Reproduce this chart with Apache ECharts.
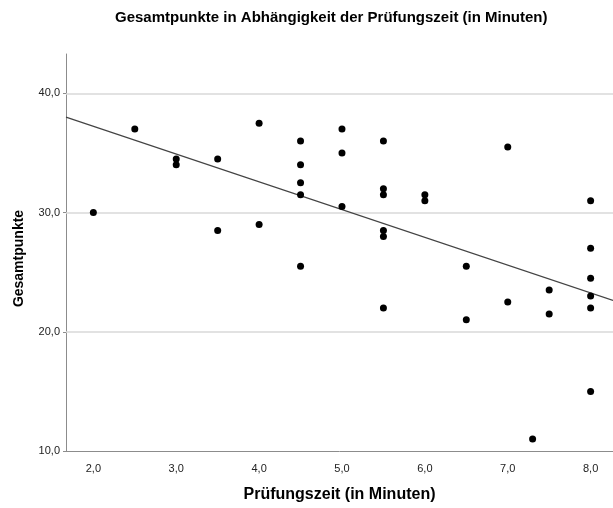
<!DOCTYPE html>
<html>
<head>
<meta charset="utf-8">
<script src="https://cdn.jsdelivr.net/npm/echarts@6/dist/echarts.min.js"></script>
<style>
html,body{margin:0;padding:0;background:#fff;}
#chart{width:613px;height:508px;}
</style>
</head>
<body>
<div id="chart"></div>
<script>
// Data
const pruefungszeit = [2, 2.5, 3, 3, 3.5, 3.5, 4, 4, 4.5, 4.5, 4.5, 4.5, 4.5, 5, 5, 5,
  5.5, 5.5, 5.5, 5.5, 5.5, 5.5, 6, 6, 6.5, 6.5, 7, 7, 7.3, 7.5, 7.5, 8, 8, 8, 8, 8, 8];
const gesamtpunkte = [30, 37, 34.5, 34, 34.5, 28.5, 37.5, 29, 36, 34, 32.5, 31.5, 25.5, 37, 35, 30.5,
  36, 32, 31.5, 28.5, 28, 22, 31.5, 31, 25.5, 21, 35.5, 22.5, 11, 23.5, 21.5, 31, 27, 24.5, 23, 22, 15];
const xTicks = [2, 3, 4, 5, 6, 7, 8];
const yTicks = [10, 20, 30, 40];
const gridValues = [20, 30, 40];
// fit line: y = fitIntercept + fitSlope * x
const fitIntercept = 41.9;
const fitSlope = -2.33;
const xMin = 1.67, xMax = 8.27, yMin = 10, yMax = 43.3;

const points = pruefungszeit.map((x, i) => [x, gesamtpunkte[i]]);
const fitLine = [[xMin, fitIntercept + fitSlope * xMin], [xMax, fitIntercept + fitSlope * xMax]];
const fmt = v => Number(v).toFixed(1).replace('.', ',');
const FONT = "'Liberation Sans', Arial, sans-serif";

const chart = echarts.init(document.getElementById('chart'), null, {renderer: 'canvas'});
chart.setOption({
  animation: false,
  backgroundColor: '#fff',
  title: {
    text: 'Gesamtpunkte in Abhängigkeit der Prüfungszeit (in Minuten)',
    left: 110,
    top: 5,
    textStyle: {fontFamily: FONT, fontSize: 15, fontWeight: 'bold', color: '#000'}
  },
  grid: {left: 66, right: 0, top: 54, bottom: 50, containLabel: false},
  xAxis: {
    type: 'value', min: xMin, max: xMax,
    name: 'Prüfungszeit (in Minuten)', nameLocation: 'middle', nameGap: 36,
    nameTextStyle: {fontFamily: FONT, fontSize: 16, fontWeight: 'bold', color: '#000'},
    axisLine: {show: true, lineStyle: {color: '#8c8c8c', width: 1}},
    axisTick: {show: false},
    splitLine: {show: false},
    axisLabel: {customValues: xTicks, formatter: fmt, margin: 12,
      fontFamily: FONT, fontSize: 11, color: '#222'}
  },
  yAxis: {
    type: 'value', min: yMin, max: yMax,
    name: 'Gesamtpunkte', nameLocation: 'middle', nameGap: 40,
    nameTextStyle: {fontFamily: FONT, fontSize: 14, fontWeight: 'bold', color: '#000', padding: [0, 12, 0, 0]},
    axisLine: {show: true, lineStyle: {color: '#8c8c8c', width: 1}},
    axisTick: {show: true, customValues: yTicks, length: 3, lineStyle: {color: '#8c8c8c'}},
    splitLine: {show: false},
    axisLabel: {customValues: yTicks, formatter: fmt, margin: 6,
      fontFamily: FONT, fontSize: 11, color: '#222'}
  },
  series: [
    {
      type: 'scatter', data: [], z: 1, silent: true,
      markLine: {
        silent: true, symbol: 'none', label: {show: false}, z: 1,
        lineStyle: {color: '#d9d9d9', width: 1.5, type: 'solid'},
        data: gridValues.map(v => ({yAxis: v}))
      }
    },
    {
      type: 'line', data: fitLine, showSymbol: false, silent: true, z: 3,
      lineStyle: {color: '#444', width: 1.2}
    },
    {
      type: 'scatter', data: points, symbol: 'circle', symbolSize: 7, z: 4,
      itemStyle: {color: '#000', opacity: 1}
    }
  ]
});
</script>
</body>
</html>
